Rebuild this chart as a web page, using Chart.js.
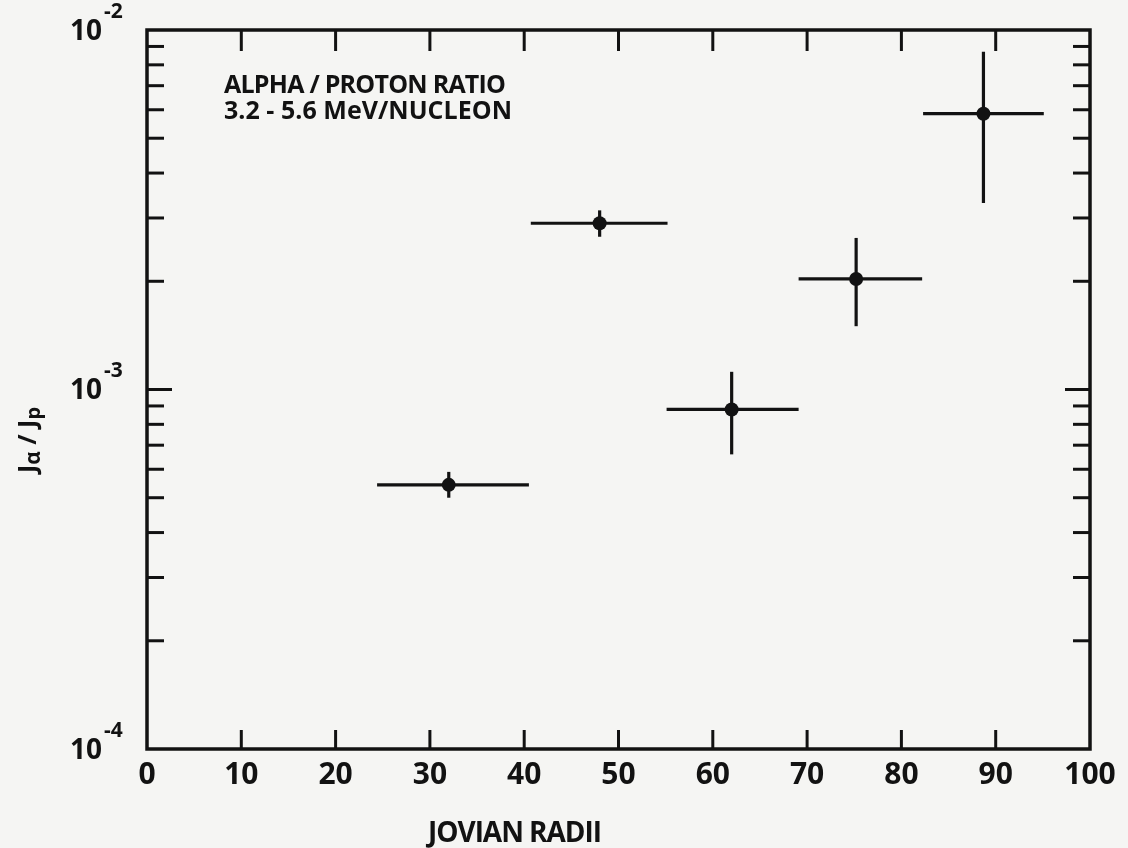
<!DOCTYPE html>
<html>
<head>
<meta charset="utf-8">
<script src="https://cdn.jsdelivr.net/npm/chart.js@4/dist/chart.umd.min.js"></script>
<style>
  html, body { margin: 0; padding: 0; background: #f5f5f3; }
  #wrap { width: 1128px; height: 848px; }
</style>
</head>
<body>
<div id="wrap"><canvas id="ratioChart" width="1128" height="848"></canvas></div>
<script>
// alpha/proton ratio vs distance
const radii      = [32.0, 48.0, 62.0, 75.2, 88.7];
const radiiLow   = [24.4, 40.7, 55.1, 69.1, 82.3];
const radiiHigh  = [40.5, 55.2, 69.1, 82.2, 95.1];
const ratio      = [5.43e-4, 2.90e-3, 8.80e-4, 2.03e-3, 5.85e-3];
const ratioLow   = [5.00e-4, 2.66e-3, 6.60e-4, 1.50e-3, 3.30e-3];
const ratioHigh  = [5.90e-4, 3.15e-3, 1.12e-3, 2.64e-3, 8.70e-3];

const xTicks     = [0, 10, 20, 30, 40, 50, 60, 70, 80, 90, 100];
const yDecades   = [1e-4, 1e-3, 1e-2];
const yExponents = ['-4', '-3', '-2'];

const titleLines = ['ALPHA / PROTON RATIO', '3.2 - 5.6 MeV/NUCLEON'];
const xTitle = 'JOVIAN RADII';

const ink = '#121212';
const fontFamily = '"Open Sans", "DejaVu Sans", sans-serif';

const drawLine = (ctx, x1, y1, x2, y2) => {
  ctx.beginPath();
  ctx.moveTo(x1, y1);
  ctx.lineTo(x2, y2);
  ctx.stroke();
};

// squeeze or stretch the lettering to the width it has in the drawing
const fitText = (ctx, text, left, baseline, width) => {
  ctx.letterSpacing = '0px';
  const w0 = ctx.measureText(text).width;
  ctx.letterSpacing = ((width - w0) / (text.length - 1)) + 'px';
  ctx.textAlign = 'left';
  ctx.fillText(text, left, baseline);
  ctx.letterSpacing = '0px';
};

const framePlugin = {
  id: 'framePlugin',
  beforeDatasetsDraw(chart) {
    const { ctx, chartArea: a, scales: { x, y } } = chart;
    ctx.save();
    ctx.strokeStyle = ink;
    ctx.lineWidth = 3.5;
    ctx.strokeRect(a.left, a.top, a.right - a.left, a.bottom - a.top);

    ctx.lineWidth = 3;
    xTicks.forEach(v => {
      if (v === xTicks[0] || v === xTicks[xTicks.length - 1]) return;
      const px = x.getPixelForValue(v);
      drawLine(ctx, px, a.bottom, px, a.bottom - 19);
      drawLine(ctx, px, a.top, px, a.top + 21);
    });

    for (let d = 0; d < yDecades.length - 1; d++) {
      for (let k = 1; k <= 9; k++) {
        if (k === 1 && d === 0) continue;
        const py = y.getPixelForValue(yDecades[d] * k);
        const len = k === 1 ? 25 : 17;
        drawLine(ctx, a.left, py, a.left + len, py);
        drawLine(ctx, a.right, py, a.right - len, py);
      }
    }

    // error bars
    ctx.lineWidth = 3.2;
    radii.forEach((r, i) => {
      const px = x.getPixelForValue(r);
      const py = y.getPixelForValue(ratio[i]);
      drawLine(ctx, x.getPixelForValue(radiiLow[i]), py, x.getPixelForValue(radiiHigh[i]), py);
      drawLine(ctx, px, y.getPixelForValue(ratioHigh[i]), px, y.getPixelForValue(ratioLow[i]));
    });
    ctx.restore();
  },
  afterDraw(chart) {
    const { ctx, scales: { y } } = chart;
    ctx.save();
    ctx.fillStyle = ink;

    // y tick labels: 10 with a raised exponent
    yDecades.forEach((v, i) => {
      const py = y.getPixelForValue(v);
      ctx.textBaseline = 'middle';
      ctx.font = `700 28px ${fontFamily}`;
      ctx.textAlign = 'right';
      ctx.fillText('10', 102, py + 2);
      ctx.font = `700 21px ${fontFamily}`;
      ctx.textAlign = 'left';
      ctx.fillText(yExponents[i], 104, py - 18);
    });

    // y title J_alpha / J_p, rotated
    ctx.textBaseline = 'alphabetic';
    ctx.translate(36, 440);
    ctx.rotate(-Math.PI / 2);
    const parts = [['J', 25, 0], ['\u03b1', 21, 4], [' / ', 25, 0], ['J', 25, 0], ['p', 20, 4]];
    let total = 0;
    parts.forEach(([t, s]) => { ctx.font = `700 ${s}px ${fontFamily}`; total += ctx.measureText(t).width; });
    let cx = -total / 2;
    ctx.textAlign = 'left';
    parts.forEach(([t, s, dy]) => {
      ctx.font = `700 ${s}px ${fontFamily}`;
      ctx.fillText(t, cx, dy);
      cx += ctx.measureText(t).width;
    });
    ctx.setTransform(1, 0, 0, 1, 0, 0);

    // x title
    ctx.font = `700 28px ${fontFamily}`;
    fitText(ctx, xTitle, 428, 842, 174);

    // annotation in the upper left
    ctx.font = `700 25px ${fontFamily}`;
    fitText(ctx, titleLines[0], 224, 93, 282);
    fitText(ctx, titleLines[1], 224, 119, 288);
    ctx.restore();
  }
};

new Chart(document.getElementById('ratioChart'), {
  type: 'scatter',
  data: {
    datasets: [{
      label: 'Ja/Jp',
      data: radii.map((r, i) => ({ x: r, y: ratio[i] })),
      pointRadius: 7,
      pointStyle: 'circle',
      backgroundColor: ink,
      borderWidth: 0
    }]
  },
  options: {
    responsive: false,
    animation: false,
    layout: { padding: { top: 30, right: 38, left: 0, bottom: 0 } },
    plugins: {
      legend: { display: false },
      tooltip: { enabled: false }
    },
    scales: {
      x: {
        type: 'linear',
        min: 0,
        max: 100,
        grid: { display: false, drawTicks: false },
        border: { display: false },
        afterBuildTicks: s => { s.ticks = xTicks.map(v => ({ value: v })); },
        afterFit: s => { s.height = 99; },
        ticks: {
          padding: 8,
          color: ink,
          maxRotation: 0,
          font: { family: fontFamily, size: 30, weight: 700 }
        }
      },
      y: {
        type: 'logarithmic',
        min: yDecades[0],
        max: yDecades[yDecades.length - 1],
        grid: { display: false },
        border: { display: false },
        ticks: { display: false },
        afterFit: s => { s.width = 147; }
      }
    }
  },
  plugins: [framePlugin]
});
</script>
</body>
</html>
